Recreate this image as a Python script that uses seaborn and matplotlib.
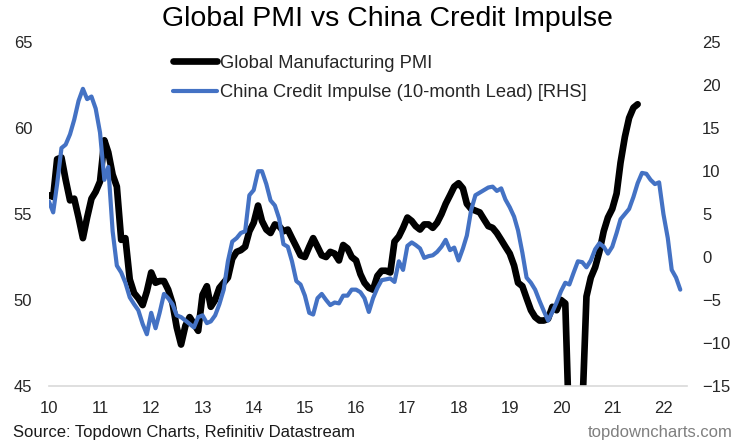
import matplotlib
matplotlib.use('Agg')
import matplotlib.pyplot as plt
import matplotlib.dates as mdates
import pandas as pd
import seaborn as sns

# Global Manufacturing PMI, monthly from Jan 2010 (LHS)
pmi = [
    56.1, 56.0, 58.2, 58.3, 57.0, 55.8, 55.9, 54.8, 53.6, 54.8, 55.9, 56.3,
    56.9, 59.3, 58.6, 57.3, 56.6, 53.5, 53.6, 51.2, 50.4, 50.1, 49.7, 50.5,
    51.6, 51.0, 51.1, 51.1, 50.6, 49.8, 48.4, 47.4, 48.5, 49.0, 48.6, 48.2,
    50.3, 50.8, 49.6, 50.0, 50.7, 51.0, 51.3, 52.4, 52.8, 52.9, 53.1, 54.0,
    54.5, 55.5, 54.6, 54.1, 53.9, 54.4, 54.3, 54.0, 54.1, 53.6, 53.1, 52.6,
    52.5, 53.1, 53.6, 53.1, 52.6, 52.5, 52.8, 52.7, 52.3, 53.2, 53.0, 52.5,
    52.3, 51.5, 51.0, 50.7, 50.6, 51.4, 51.7, 51.7, 51.6, 53.4, 53.7, 54.2,
    54.8, 54.6, 54.3, 54.1, 54.4, 54.4, 54.2, 54.5, 55.0, 55.6, 56.1, 56.6,
    56.8, 56.5, 55.6, 55.3, 55.2, 55.1, 54.7, 54.3, 54.2, 53.9, 53.5, 53.1,
    52.7, 52.0, 51.0, 50.8, 50.1, 49.4, 49.0, 48.8, 48.8, 48.9, 49.6, 49.4,
    50.0, 49.8, 42.0, 39.0, 38.5, 43.5, 50.2, 51.3, 51.9, 52.8, 54.0, 54.8,
    55.3, 56.2, 58.0, 59.5, 60.6, 61.2, 61.4,
]

# China credit impulse, 10-month lead, monthly from Jan 2010 (RHS)
impulse = [
    6.5, 5.2, 8.5, 12.7, 13.1, 14.3, 16.0, 18.2, 19.6, 18.4, 18.7, 17.3,
    14.5, 9.0, 10.5, 3.0, -1.0, -1.8, -3.0, -4.7, -5.5, -6.2, -7.8, -9.0,
    -6.5, -8.3, -6.5, -4.3, -4.8, -5.5, -6.8, -7.0, -7.4, -7.8, -8.2, -7.0,
    -6.8, -7.7, -7.5, -6.8, -5.5, -3.8, -0.5, 1.8, 2.2, 2.8, 3.0, 7.2,
    7.8, 10.0, 10.0, 8.5, 6.6, 6.0, 4.5, 1.5, 1.2, -0.5, -2.8, -3.2,
    -4.5, -6.5, -6.7, -4.8, -4.3, -5.0, -5.6, -5.3, -5.4, -4.5, -4.5, -3.8,
    -3.8, -4.1, -4.8, -6.4, -4.8, -3.6, -2.7, -2.6, -2.5, -2.9, -0.5, -1.5,
    1.3, 1.7, 1.4, 1.0, -0.1, 0.1, 0.2, 0.6, 1.2, 2.0, 0.8, 1.1,
    -0.4, 1.0, 2.5, 5.5, 7.2, 7.5, 7.8, 8.1, 8.2, 7.7, 8.0, 6.7,
    5.8, 4.7, 3.1, 0.5, -2.4, -3.0, -3.8, -5.1, -6.3, -7.4, -6.4, -5.3,
    -4.0, -3.0, -3.2, -1.8, -0.5, -0.6, -1.2, -0.4, 0.9, 1.6, 1.2, 0.4,
    1.2, 2.8, 4.4, 5.0, 5.6, 7.0, 8.6, 9.8, 9.7, 9.0, 8.5, 8.7,
    5.0, 2.2, -1.5, -2.4, -3.8,
]

left_ticks = [45, 50, 55, 60, 65]
right_ticks = [-15, -10, -5, 0, 5, 10, 15, 20, 25]
years = list(range(2010, 2023))

pmi_dates = pd.date_range('2010-01-01', periods=len(pmi), freq='MS')
imp_dates = pd.date_range('2010-01-01', periods=len(impulse), freq='MS')

sns.set_style('white')
plt.rcParams['font.family'] = ['Liberation Sans', 'DejaVu Sans']

fig, ax = plt.subplots(figsize=(7.4, 4.47), dpi=100)
fig.subplots_adjust(left=0.066, right=0.928, bottom=0.137, top=0.905)
ax2 = ax.twinx()

sns.lineplot(x=pmi_dates, y=pmi, ax=ax, color='black', linewidth=4.8,
             solid_joinstyle='round', solid_capstyle='round',
             label='Global Manufacturing PMI')
sns.lineplot(x=imp_dates, y=impulse, ax=ax2, color='#4472C4', linewidth=3.0,
             solid_joinstyle='round', solid_capstyle='round',
             label='China Credit Impulse (10-month Lead) [RHS]')
for a in (ax, ax2):
    if a.get_legend() is not None:
        a.get_legend().remove()

ax.set_ylim(45, 65)
ax.set_yticks(left_ticks)
ax2.set_ylim(-15, 25)
ax2.set_yticks(right_ticks)
ax.set_xlim(pd.Timestamp('2010-01-01'), pd.Timestamp('2022-06-16'))
ax.set_xticks([pd.Timestamp(f'{y}-01-01') for y in years])
ax.xaxis.set_major_formatter(mdates.DateFormatter('%y'))

ax.tick_params(axis='y', length=0, labelsize=12, pad=12)
ax2.tick_params(axis='y', length=0, labelsize=12, pad=11)
ax.tick_params(axis='x', length=4, color='#d9d9d9', width=1, labelsize=12, pad=7)

for a in (ax, ax2):
    for s in ('top', 'left', 'right', 'bottom'):
        a.spines[s].set_visible(False)
ax.spines['bottom'].set_visible(True)
ax.spines['bottom'].set_color('#d9d9d9')
ax.spines['bottom'].set_linewidth(1.2)
ax.set_xlabel('')
ax.set_ylabel('')
ax2.set_ylabel('')
ax.grid(False)
ax2.grid(False)

h1, l1 = ax.get_legend_handles_labels()
h2, l2 = ax2.get_legend_handles_labels()
ax2.legend(h1 + h2, l1 + l2, loc='upper left', bbox_to_anchor=(0.234, 0.878),
           bbox_transform=fig.transFigure, frameon=False, fontsize=13.2,
           handlelength=2.4, handletextpad=0.16, labelspacing=0.7,
           borderaxespad=0, borderpad=0)

fig.text(0.523, 0.957, 'Global PMI vs China Credit Impulse', ha='center',
         va='center', fontsize=20.5, color='black')
fig.text(0.017, 0.033, 'Source: Topdown Charts, Refinitiv Datastream',
         ha='left', va='center', fontsize=12, color='#1a1a1a')
fig.text(0.99, 0.033, 'topdowncharts.com', ha='right', va='center',
         fontsize=12, color='#7f7f7f')

fig.savefig('out.png', dpi=100)
